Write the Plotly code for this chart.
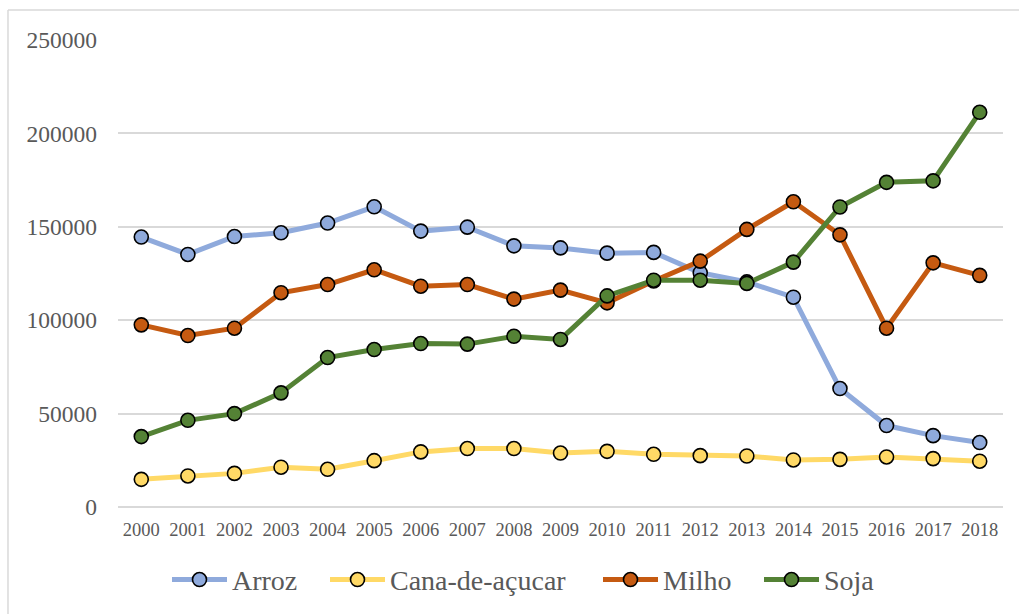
import plotly.graph_objects as go

years = [str(y) for y in range(2000, 2019)]
arroz = [144500, 135200, 144800, 146800, 152000, 160700, 147700, 149800, 139800, 138700,
         135900, 136300, 125400, 120500, 112300, 63400, 43600, 38200, 34500]
cana = [14800, 16600, 18000, 21300, 20200, 24800, 29500, 31300, 31300, 28900,
        29800, 28200, 27500, 27300, 25200, 25500, 26800, 25900, 24500]
milho = [97500, 91800, 95700, 114700, 119100, 127000, 118200, 119100, 111300, 116100,
         109300, 121000, 131600, 148600, 163400, 145700, 95700, 130700, 124000]
soja = [37700, 46400, 50000, 61100, 80000, 84300, 87500, 87200, 91400, 89700,
        113000, 121400, 121400, 119700, 131100, 160600, 173800, 174600, 211300]

series = [("Arroz", arroz, "#8FAADC"), ("Cana-de-açucar", cana, "#FFD966"),
          ("Milho", milho, "#C55A11"), ("Soja", soja, "#548235")]

legend_names = ["legend", "legend2", "legend3", "legend4"]
legend_starts = [172, 330, 603, 764]  # pixel x of each legend entry's line start

fig = go.Figure()
for (name, vals, col), lg in zip(series, legend_names):
    fig.add_trace(go.Scatter(
        x=years, y=vals, name=name, mode="lines+markers", legend=lg,
        line=dict(color=col, width=5),
        marker=dict(size=14, color=col, line=dict(color="black", width=1.6)),
    ))

L, R = 118, 16
W = 1019 - L - R
legend_layout = {}
for lg, px in zip(legend_names, legend_starts):
    legend_layout[lg] = dict(
        orientation="h", x=(px - 5 - L) / W, xanchor="left", y=-0.156, yanchor="middle",
        font=dict(size=28, color="#595959"), itemwidth=55, bgcolor="rgba(0,0,0,0)")

grid = "#D9D9D9"
fig.update_layout(
    width=1019, height=614,
    margin=dict(l=L, r=R, t=40, b=107, autoexpand=False),
    paper_bgcolor="white", plot_bgcolor="white",
    font=dict(family="Liberation Serif, Times New Roman, serif", color="#595959"),
    showlegend=True,
    xaxis=dict(type="category", range=[-0.5, 18.5], showgrid=False, showline=False,
               zeroline=False, automargin=False,
               ticks="", tickfont=dict(size=18.5, color="#595959"), ticklabelstandoff=9),
    yaxis=dict(range=[0, 250000], tickvals=[0, 50000, 100000, 150000, 200000, 250000],
               ticktext=["0", "50000", "100000", "150000", "200000", "250000"],
               automargin=False,
               showgrid=True, gridcolor=grid, gridwidth=1.5, zeroline=True,
               zerolinecolor=grid, zerolinewidth=1.5, showline=False, ticks="",
               tickfont=dict(size=23.5, color="#595959"), ticklabelstandoff=20),
    shapes=[
        dict(type="line", xref="paper", yref="paper", x0=-0.1243, x1=-0.1243,
             y0=-0.25, y1=1.064, line=dict(color=grid, width=1.5)),
        dict(type="line", xref="paper", yref="paper", x0=-0.1243, x1=1.1,
             y0=1.064, y1=1.064, line=dict(color=grid, width=1.5)),
    ],
    **legend_layout,
)

fig.write_html("out.html", config={"displayModeBar": False},
               post_script="document.body.style.margin='0';document.body.style.overflow='hidden';")
